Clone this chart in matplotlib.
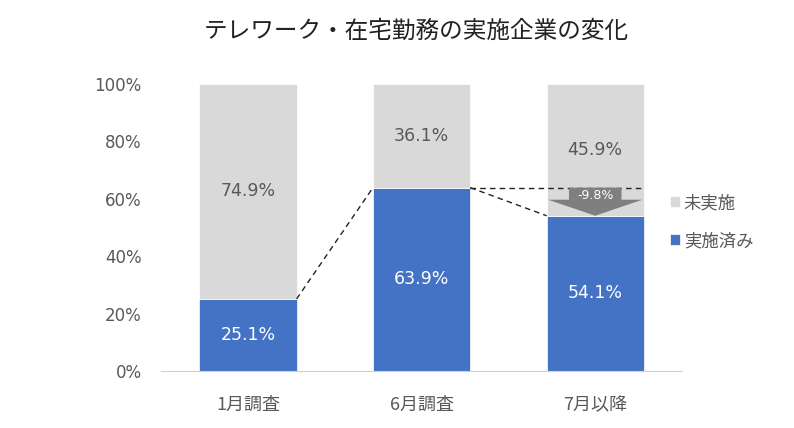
import matplotlib
matplotlib.use("Agg")
import matplotlib.pyplot as plt
from matplotlib.patches import Polygon

plt.rcParams['font.family'] = ['Noto Sans CJK JP', 'DejaVu Sans']

title = "テレワーク・在宅勤務の実施企業の変化"
categories = ["1月調査", "6月調査", "7月以降"]
done = [25.1, 63.9, 54.1]
not_done = [74.9, 36.1, 45.9]
series_names = ["未実施", "実施済み"]
yticks = [0, 20, 40, 60, 80, 100]

blue = "#4472C4"
gray = "#D9D9D9"
text_gray = "#595959"
num_font = ['DejaVu Sans']

fig = plt.figure(figsize=(7.94, 4.28), dpi=100)
ax = fig.add_axes([0.203, 0.1332, 0.656, 0.6705])

x = list(range(len(categories)))
w = 0.56
b1 = ax.bar(x, done, width=w, color=blue, edgecolor="white", linewidth=0.5, label=series_names[1], zorder=2)
b2 = ax.bar(x, not_done, width=w, bottom=done, color=gray, edgecolor="white", linewidth=0.5, label=series_names[0], zorder=2)

for xi, d, n in zip(x, done, not_done):
    ax.text(xi, d / 2, f"{d:.1f}%", ha="center", va="center", color="white", fontsize=12.5,
            family=num_font, zorder=4)
    ax.text(xi, d + n / 2, f"{n:.1f}%", ha="center", va="center", color=text_gray, fontsize=12.5,
            family=num_font, zorder=4)

# connecting dashed lines
dash = dict(color="#222222", linestyle=(0, (4, 3)), linewidth=1.0, zorder=3)
for i in range(len(x) - 1):
    ax.plot([x[i] + w / 2, x[i + 1] - w / 2], [done[i], done[i + 1]], **dash)
ax.plot([x[1] + w / 2, x[2] + w / 2], [done[1], done[1]], **dash)

# down arrow for change
top, bot = done[1], done[2]
xc = x[2]
shaft_hw = 0.27 * w
head_hw = 0.485 * w
head_start = bot + (top - bot) * 0.57
arrow = Polygon([
    (xc - shaft_hw, top), (xc + shaft_hw, top), (xc + shaft_hw, head_start),
    (xc + head_hw, head_start), (xc, bot), (xc - head_hw, head_start),
    (xc - shaft_hw, head_start)], closed=True, facecolor="#7F7F7F", edgecolor="none", zorder=3)
ax.add_patch(arrow)
ax.text(xc, top - (top - bot) * 0.28, f"{bot - top:.1f}%", ha="center", va="center",
        color="white", fontsize=9, family=num_font, zorder=5)

ax.set_xlim(-0.5, 2.5)
ax.set_ylim(0, 100)
ax.set_yticks(yticks)
ax.set_yticklabels([f"{t}%" for t in yticks], family=num_font)
ax.set_xticks(x)
ax.set_xticklabels(categories)
ax.tick_params(axis="y", length=0, colors=text_gray, labelsize=12, pad=14)
ax.tick_params(axis="x", length=0, colors=text_gray, labelsize=13, pad=18)
for s in ["top", "right", "left"]:
    ax.spines[s].set_visible(False)
ax.spines["bottom"].set_color("#D0D0D0")

fig.text(0.524, 0.928, title, ha="center", va="center", fontsize=17, color="#222222")

leg = fig.legend(handles=[b2, b1], labels=series_names, loc="upper left",
                 bbox_to_anchor=(0.824, 0.583), frameon=False, fontsize=12.5,
                 handlelength=0.6, handleheight=0.6, handletextpad=0.2, labelspacing=1.15,
                 labelcolor=text_gray)

fig.savefig("out.png", dpi=100)
